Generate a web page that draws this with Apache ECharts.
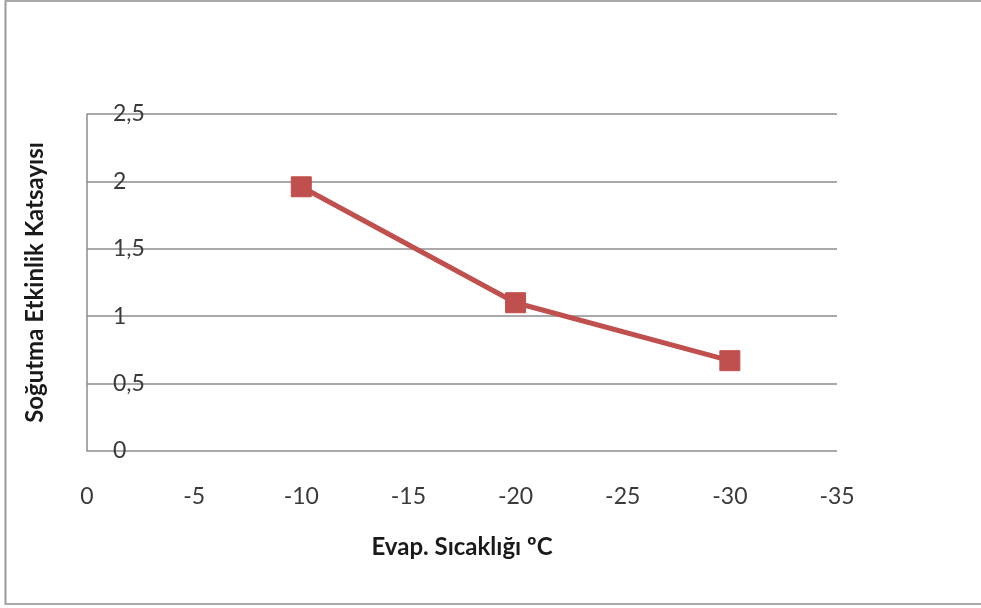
<!DOCTYPE html>
<html>
<head>
<meta charset="utf-8">
<script src="https://cdn.jsdelivr.net/npm/echarts@6/dist/echarts.min.js"></script>
<style>
  html, body { margin: 0; padding: 0; background: #ffffff; }
  #chart { width: 981px; height: 608px; }
</style>
</head>
<body>
<div id="chart"></div>
<script>
// Evaporator temperature (°C) and the resulting cooling COP
const evapTemps = [-10, -20, -30];
const copValues = [1.96, 1.1, 0.67];

const xTicks = { min: -35, max: 0, step: 5 };
const yTicks = { min: 0, max: 2.5, step: 0.5 };

const xTitle = 'Evap. Sıcaklığı ºC';
const yTitle = 'Soğutma Etkinlik Katsayısı';

const FONT = 'Lato, "Open Sans", sans-serif';
const GRID_GRAY = '#8c8c8c';
const SERIES_RED = '#c0504d';

const chart = echarts.init(document.getElementById('chart'), null, { renderer: 'canvas' });

chart.setOption({
  backgroundColor: '#ffffff',
  animation: false,
  grid: { left: 87, right: 144, top: 114, bottom: 157, containLabel: false },
  xAxis: {
    type: 'value',
    min: xTicks.min,
    max: xTicks.max,
    interval: xTicks.step,
    inverse: true,
    axisLine: { show: false },
    axisTick: { show: false },
    splitLine: { show: false },
    axisLabel: {
      margin: 34,
      color: '#3a3a3a',
      fontFamily: FONT,
      fontSize: 23,
      formatter: v => String(v)
    },
    name: xTitle,
    nameLocation: 'middle',
    nameGap: 84,
    nameTextStyle: { fontFamily: FONT, fontWeight: 'bold', fontSize: 24, color: '#1a1a1a' }
  },
  yAxis: {
    type: 'value',
    min: yTicks.min,
    max: yTicks.max,
    interval: yTicks.step,
    axisLine: { show: true, lineStyle: { color: GRID_GRAY, width: 1.5 } },
    axisTick: { show: false },
    splitLine: { show: true, lineStyle: { color: GRID_GRAY, width: 1.5 } },
    axisLabel: {
      inside: true,
      margin: 26,
      color: '#3a3a3a',
      fontFamily: FONT,
      fontSize: 23,
      formatter: v => String(v).replace('.', ',')
    },
    name: yTitle,
    nameLocation: 'middle',
    nameRotate: 90,
    nameGap: 40,
    nameTextStyle: { fontFamily: FONT, fontWeight: 'bold', fontSize: 24, color: '#1a1a1a' }
  },
  series: [{
    type: 'line',
    data: evapTemps.map((t, i) => [t, copValues[i]]),
    symbol: 'rect',
    symbolSize: 20,
    lineStyle: { color: SERIES_RED, width: 5 },
    itemStyle: { color: SERIES_RED, borderColor: SERIES_RED },
    z: 3
  }],
  graphic: [
    { type: 'line', shape: { x1: 5.5, y1: 0, x2: 5.5, y2: 605 }, style: { stroke: '#9a9a9a', lineWidth: 2 } },
    { type: 'line', shape: { x1: 5, y1: 1, x2: 981, y2: 1 }, style: { stroke: '#a8a8a8', lineWidth: 2 } },
    { type: 'line', shape: { x1: 5, y1: 604, x2: 981, y2: 604 }, style: { stroke: '#a8a8a8', lineWidth: 2 } }
  ]
});
</script>
</body>
</html>
